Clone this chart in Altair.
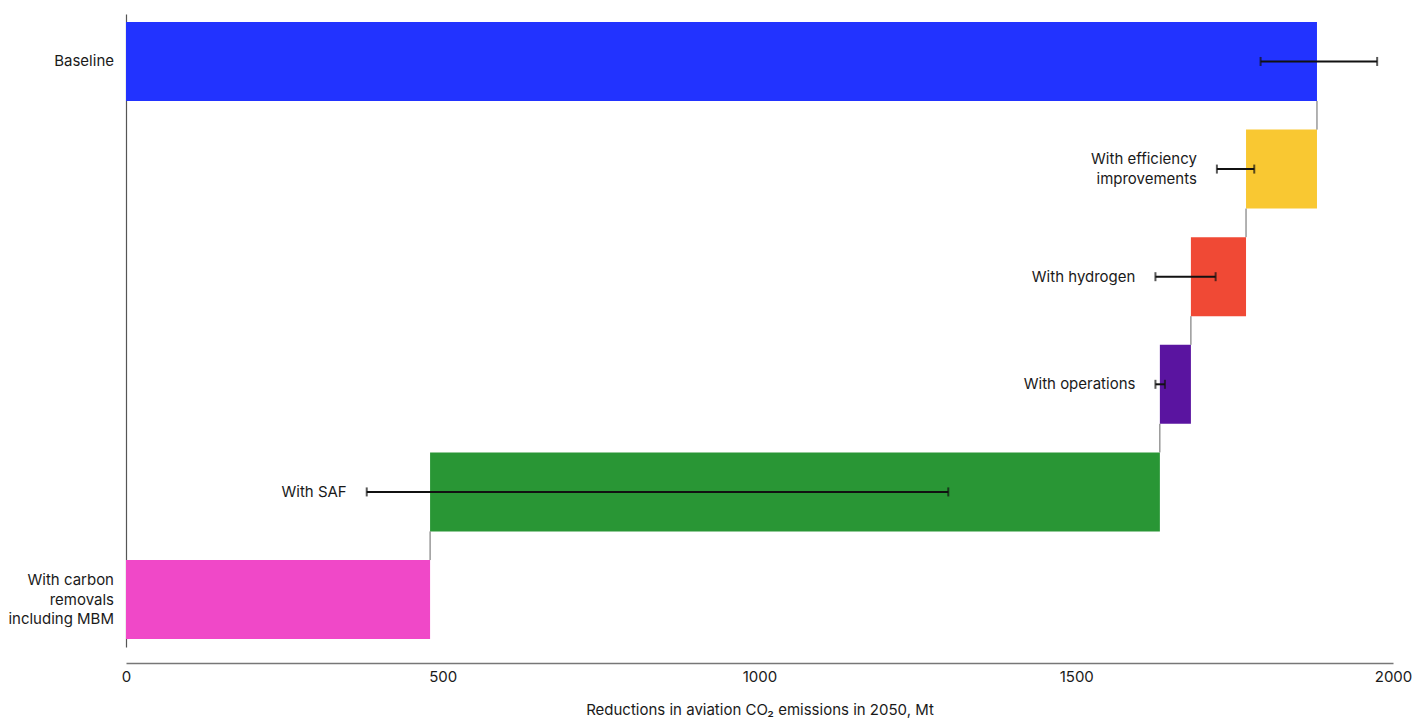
import altair as alt
import pandas as pd

categories = ["Baseline", "With efficiency improvements", "With hydrogen",
              "With operations", "With SAF", "With carbon removals including MBM"]
labels = ["Baseline", "With efficiency\nimprovements", "With hydrogen",
          "With operations", "With SAF", "With carbon\nremovals \nincluding MBM"]
bar_start = [0, 1768, 1681, 1632, 480, 0]
bar_end = [1880, 1880, 1768, 1681, 1632, 480]
err_low = [1791, 1722, 1625, 1625, 380, None]
err_high = [1975, 1781, 1720, 1640, 1298, None]
colors = ["#2233FF", "#F9C832", "#F04935", "#5A14A0", "#299635", "#F048C8"]
on_axis = [True, False, False, False, False, True]

df = pd.DataFrame({
    "cat": categories, "label": labels, "start": bar_start, "end": bar_end,
    "lo": err_low, "hi": err_high, "color": colors, "axis": on_axis,
})
df["label_x"] = [0 if a else lo for a, lo in zip(on_axis, err_low)]
df["nlines"] = [lab.count("\n") + 1 for lab in labels]

conn = pd.DataFrame({
    "cat": categories[:-1],
    "next": categories[1:],
    "x": [bar_end[0]] + bar_start[1:-1],
})

FONT = "Inter"
FS = 15
LH = 19.5
ysc = alt.Scale(domain=categories, paddingInner=0.266, paddingOuter=0.074)
xsc = alt.Scale(domain=[0, 2000], nice=False)

base = alt.Chart(df)

bars = base.mark_bar().encode(
    y=alt.Y("cat:N", scale=ysc, sort=categories,
            axis=alt.Axis(title=None, labels=False, ticks=False, domain=True,
                          domainColor="#555555", domainWidth=1.2)),
    x=alt.X("start:Q", scale=xsc,
            axis=alt.Axis(title="Reductions in aviation CO₂ emissions in 2050, Mt",
                          values=[0, 500, 1000, 1500, 2000], format="d",
                          ticks=False, grid=False, labelFlush=False,
                          offset=16, domainColor="#777777", domainWidth=1.5,
                          labelFont=FONT, labelFontSize=FS, labelColor="#1a1a1a",
                          labelPadding=6, titleFont=FONT, titleFontSize=FS,
                          titleFontWeight="normal", titleColor="#1a1a1a",
                          titlePadding=18)),
    x2="end:Q",
    color=alt.Color("color:N", scale=None),
)

connectors = alt.Chart(conn).mark_rule(color="#666666", strokeWidth=1).encode(
    x=alt.X("x:Q", scale=xsc),
    y=alt.Y("cat:N", scale=ysc, sort=categories, bandPosition=1),
    y2=alt.Y2("next:N", bandPosition=0),
)

errdf = base.transform_filter("isValid(datum.lo)")
err_rule = errdf.mark_rule(color="#111111", strokeWidth=2).encode(
    y=alt.Y("cat:N", scale=ysc, sort=categories),
    x=alt.X("lo:Q", scale=xsc),
    x2="hi:Q",
)
cap_lo = errdf.mark_tick(color="#111111", thickness=2, size=9).encode(
    y=alt.Y("cat:N", scale=ysc, sort=categories),
    x=alt.X("lo:Q", scale=xsc),
)
cap_hi = errdf.mark_tick(color="#111111", thickness=2, size=9).encode(
    y=alt.Y("cat:N", scale=ysc, sort=categories),
    x=alt.X("hi:Q", scale=xsc),
)

text_layers = []
for axis_flag, dx in ((True, -12), (False, -20)):
    for n in (1, 2, 3):
        flt = f"{'datum.axis' if axis_flag else '!datum.axis'} && datum.nlines == {n}"
        text_layers.append(
            base.transform_filter(flt).mark_text(
                align="right", baseline="middle", dx=dx, dy=-(n - 1) * LH / 2,
                font=FONT, fontSize=FS, color="#1a1a1a",
                lineBreak="\n", lineHeight=LH,
            ).encode(
                y=alt.Y("cat:N", scale=ysc, sort=categories),
                x=alt.X("label_x:Q", scale=xsc),
                text="label:N",
            )
        )

chart = alt.layer(bars, connectors, err_rule, cap_lo, cap_hi, *text_layers).properties(
    width=1267, height=633,
    padding={"left": 118, "top": 6, "right": 20, "bottom": 72},
    autosize="none",
    background="white",
).configure_view(strokeWidth=0, stroke="transparent")

chart.save("out.html", embed_options={"renderer": "svg", "actions": False})
